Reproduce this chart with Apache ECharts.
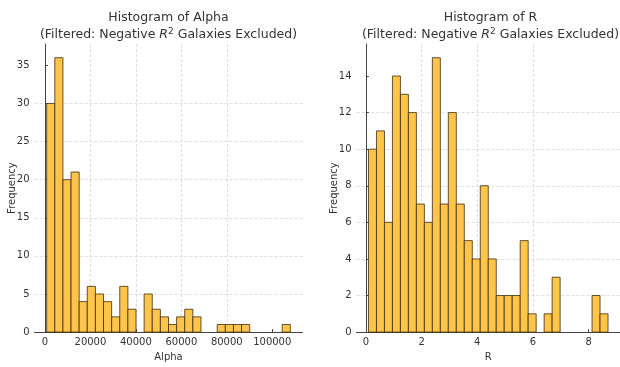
<!DOCTYPE html>
<html><head><meta charset="utf-8">
<script src="https://cdn.jsdelivr.net/npm/echarts@6/dist/echarts.min.js"></script>
<style>html,body{margin:0;padding:0;background:#fff}#c{width:620px;height:367px}</style>
</head><body><div id="c"></div>
<script>
// Histogram of Alpha: 30 equal bins between alphaRange
const alphaCounts = [30,36,20,21,4,6,5,4,2,6,3,0,5,3,2,1,2,3,2,0,0,1,1,1,1,0,0,0,0,1];
const alphaRange = [750, 107950];
const alphaXTicks = [0, 20000, 40000, 60000, 80000, 100000];
const alphaYTicks = [0, 5, 10, 15, 20, 25, 30, 35];
// Histogram of R: 30 equal bins between rRange
const rCounts = [10,11,6,14,13,12,7,6,15,7,12,7,5,4,8,4,2,2,2,5,1,0,1,3,0,0,0,0,2,1];
const rRange = [0.094, 8.694];
const rXTicks = [0, 2, 4, 6, 8];
const rYTicks = [0, 2, 4, 6, 8, 10, 12, 14];

const FONT = 'DejaVu Sans';
const TXT = '#333';

function bins(counts, range) {
  const n = counts.length, w = (range[1] - range[0]) / n;
  return counts.map((c, i) => [range[0] + i * w, range[0] + (i + 1) * w, c]);
}
function pad(range, maxCount) {
  const m = (range[1] - range[0]) * 0.05;
  return { xmin: range[0] - m, xmax: range[1] + m, ymax: maxCount * 1.05 };
}
const pa = pad(alphaRange, Math.max(...alphaCounts));
const pr = pad(rRange, Math.max(...rCounts));

function renderItem(params, api) {
  const c = api.value(2);
  if (!c) return null;
  const p0 = api.coord([api.value(0), c]);
  const p1 = api.coord([api.value(1), 0]);
  return {
    type: 'rect',
    shape: { x: p0[0], y: p0[1], width: p1[0] - p0[0], height: p1[1] - p0[1] },
    style: { fill: '#FFC54A', stroke: 'rgba(60,45,15,0.8)', lineWidth: 1 }
  };
}

const plain = v => String(v);

function xAxis(gi, min, max, name, ticks) {
  return {
    gridIndex: gi, type: 'value', min: min, max: max,
    name: name, nameLocation: 'middle', nameGap: 16,
    nameTextStyle: { fontSize: 10, color: TXT, fontFamily: FONT },
    axisLine: { show: true, lineStyle: { color: '#444', width: 1 } },
    axisTick: { show: true, inside: true, length: 3, customValues: ticks, lineStyle: { color: '#444' } },
    axisLabel: { fontSize: 10, color: TXT, fontFamily: FONT, margin: 5, customValues: ticks, formatter: plain },
    splitLine: { show: true, showMinLine: false, showMaxLine: false, lineStyle: { color: '#d6d6d6', type: [3, 2], width: 0.8 } }
  };
}
function yAxis(gi, max, ticks) {
  return {
    gridIndex: gi, type: 'value', min: 0, max: max,
    name: 'Frequency', nameLocation: 'middle', nameGap: 17, nameMoveOverlap: false,
    nameTextStyle: { fontSize: 10, color: TXT, fontFamily: FONT },
    axisLine: { show: true, lineStyle: { color: '#444', width: 1 } },
    axisTick: { show: true, inside: true, length: 3, customValues: ticks, lineStyle: { color: '#444' } },
    axisLabel: { fontSize: 10, color: TXT, fontFamily: FONT, margin: 5, customValues: ticks, formatter: plain },
    splitLine: { show: true, showMinLine: false, showMaxLine: false, lineStyle: { color: '#d6d6d6', type: [3, 2], width: 0.8 } }
  };
}

function titleEls(cx, first) {
  const rich = {
    n: { fontSize: 12.5, fontFamily: FONT, fill: TXT, lineHeight: 15 },
    i: { fontSize: 12.5, fontFamily: FONT, fill: TXT, fontStyle: 'italic', lineHeight: 15 },
    s: { fontSize: 9, fontFamily: FONT, fill: TXT, verticalAlign: 'top', lineHeight: 15 }
  };
  return [
    { type: 'text', x: cx, y: 17.5, style: { text: first, font: '12.5px "DejaVu Sans"', fill: TXT, align: 'center', verticalAlign: 'middle' } },
    { type: 'text', x: cx, y: 34.5, style: { text: '{n|(Filtered: Negative }{i|R}{s|2}{n| Galaxies Excluded)}', rich: rich, align: 'center', verticalAlign: 'middle' } }
  ];
}

const chart = echarts.init(document.getElementById('c'), null, { renderer: 'canvas' });
chart.setOption({
  animation: false,
  backgroundColor: '#fff',
  grid: [
    { left: 34.5, top: 44, width: 268, height: 294 },
    { left: 356.5, top: 44, width: 268, height: 294 }
  ],
  xAxis: [xAxis(0, pa.xmin, pa.xmax, 'Alpha', alphaXTicks), xAxis(1, pr.xmin, pr.xmax, 'R', rXTicks)],
  yAxis: [yAxis(0, pa.ymax, alphaYTicks), yAxis(1, pr.ymax, rYTicks)],
  series: [
    { type: 'custom', xAxisIndex: 0, yAxisIndex: 0, renderItem: renderItem, encode: { x: [0, 1], y: 2 }, data: bins(alphaCounts, alphaRange) },
    { type: 'custom', xAxisIndex: 1, yAxisIndex: 1, renderItem: renderItem, encode: { x: [0, 1], y: 2 }, data: bins(rCounts, rRange) }
  ],
  graphic: titleEls(168.5, 'Histogram of Alpha').concat(titleEls(490.5, 'Histogram of R'))
});
</script></body></html>
